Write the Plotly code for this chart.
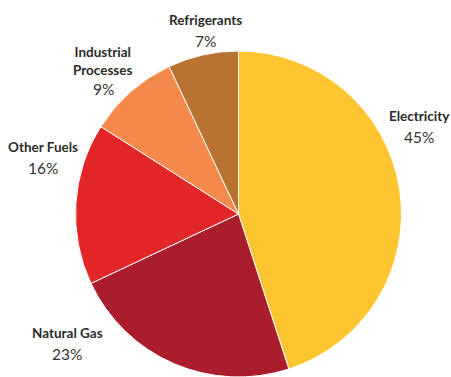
import plotly.graph_objects as go

categories = ["Electricity", "Natural Gas", "Other Fuels", "Industrial<br>Processes", "Refrigerants"]
values = [45, 23, 16, 9, 7]
colors = ["#FDC52F", "#AA1D2D", "#E22628", "#F4894B", "#B87333"]

W, H = 451, 377
# label anchor points (pixels) for annotations
label_pos = {
    "Electricity": (419, 116),
    "Natural Gas": (67, 333),
    "Other Fuels": (43, 147),
    "Industrial<br>Processes": (103, 61),
    "Refrigerants": (205, 20),
}
pct_offset = {"Industrial<br>Processes": 28}

fig = go.Figure(go.Pie(
    labels=categories,
    values=values,
    sort=False,
    direction="clockwise",
    rotation=0,
    marker=dict(colors=colors, line=dict(color="white", width=1)),
    textinfo="none",
    hoverinfo="label+percent",
    domain=dict(x=[75 / W, 402 / W], y=[0, 326 / H]),
    showlegend=False,
))

annotations = []
for cat, v in zip(categories, values):
    px, py = label_pos[cat]
    annotations.append(dict(
        x=px / W, y=1 - py / H, xref="paper", yref="paper",
        text="<b>" + cat + "</b>", showarrow=False,
        font=dict(family="Lato", size=13.5, color="#2b2b2b"),
        xanchor="center", yanchor="middle",
    ))
    off = pct_offset.get(cat, 21)
    annotations.append(dict(
        x=px / W, y=1 - (py + off) / H, xref="paper", yref="paper",
        text=f"{v}%", showarrow=False,
        font=dict(family="Lato", size=15.5, color="#333333"),
        xanchor="center", yanchor="middle",
    ))

fig.update_layout(
    width=W, height=H,
    margin=dict(l=0, r=0, t=0, b=0),
    paper_bgcolor="white", plot_bgcolor="white",
    annotations=annotations,
)

fig.write_html("out.html")
